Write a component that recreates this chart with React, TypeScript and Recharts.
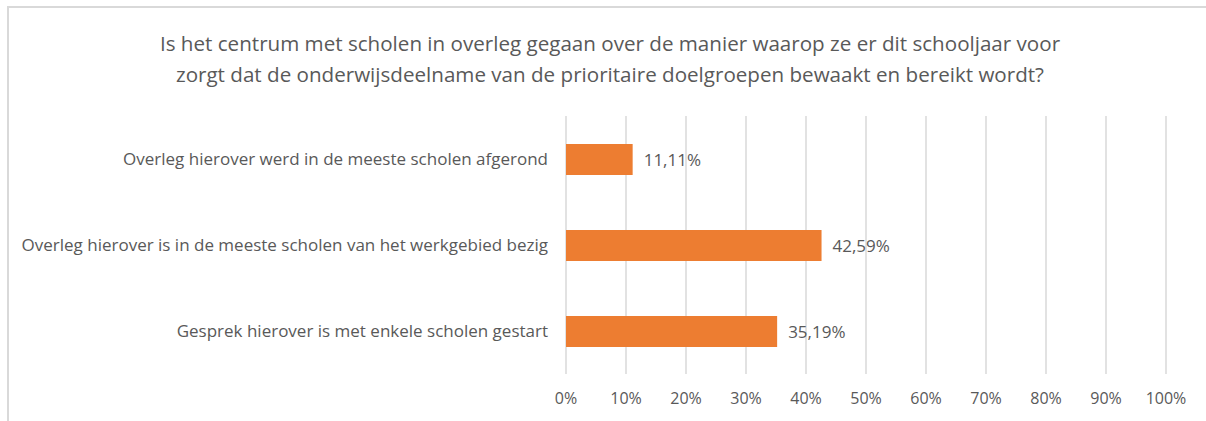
import React from 'react';
import { BarChart, Bar, XAxis, YAxis, CartesianGrid, LabelList } from 'recharts';

const categories = [
    'Overleg hierover werd in de meeste scholen afgerond',
    'Overleg hierover is in de meeste scholen van het werkgebied bezig',
    'Gesprek hierover is met enkele scholen gestart',
];
const percentages = [11.11, 42.59, 35.19];
const xTicks = [0, 10, 20, 30, 40, 50, 60, 70, 80, 90, 100];
const titleLines = [
    'Is het centrum met scholen in overleg gegaan over de manier waarop ze er dit schooljaar voor',
    'zorgt dat de onderwijsdeelname van de prioritaire doelgroepen bewaakt en bereikt wordt?',
];

const FONT = '"Open Sans", sans-serif';
const TEXT = '#595959';

const fmt = (v: number) => v.toFixed(2).replace('.', ',') + '%';

export default function App() {
    const data = categories.map((name, i) => ({ name, value: percentages[i] }));

    return (
        <div style={{ position: 'absolute', left: 0, top: 0, width: 1206, height: 421, background: '#fff', overflow: 'hidden', fontFamily: FONT }}>
            {/* chart frame, cropped at right and bottom */}
            <div style={{ position: 'absolute', left: 7, top: 6, width: 1300, height: 500, borderLeft: '2px solid #d9d9d9', borderTop: '2px solid #d9d9d9' }} />
            <div style={{ position: 'absolute', left: 0, top: 28, width: 1220, textAlign: 'center', color: TEXT, fontSize: 20.6, lineHeight: '31px' }}>
                {titleLines.map((t) => (
                    <div key={t}>{t}</div>
                ))}
            </div>
            <div style={{ position: 'absolute', left: 0, top: 0 }}>
                <BarChart
                    width={1206}
                    height={421}
                    data={data}
                    layout="vertical"
                    margin={{ top: 116, right: 40, bottom: 0, left: 0 }}
                >
                    <CartesianGrid horizontal={false} stroke="#d9d9d9" strokeWidth={1.5} />
                    <XAxis
                        type="number"
                        domain={[0, 100]}
                        ticks={xTicks}
                        tickFormatter={(v) => `${v}%`}
                        axisLine={false}
                        tickLine={false}
                        tickSize={0}
                        tickMargin={19}
                        tick={{ fill: TEXT, fontSize: 16, fontFamily: FONT }}
                        height={47}
                    />
                    <YAxis
                        type="category"
                        dataKey="name"
                        width={566}
                        axisLine={false}
                        tickLine={false}
                        tickSize={0}
                        tickMargin={18}
                        tick={{ fill: TEXT, fontSize: 17, fontFamily: FONT }}
                    />
                    <Bar dataKey="value" fill="#ed7d31" barSize={31} isAnimationActive={false}>
                        <LabelList
                            dataKey="value"
                            position="right"
                            offset={11}
                            formatter={(v: any) => fmt(Number(v))}
                            style={{ fill: TEXT, fontSize: 17, fontFamily: FONT }}
                        />
                    </Bar>
                </BarChart>
            </div>
        </div>
    );
}
